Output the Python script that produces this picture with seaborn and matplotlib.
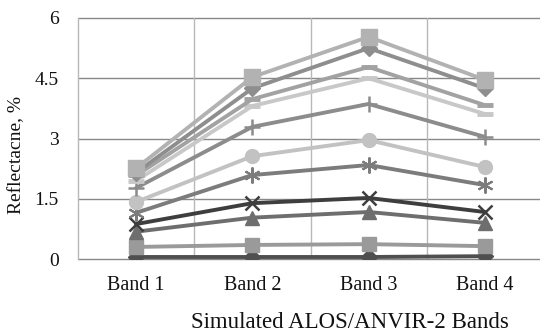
import matplotlib
matplotlib.use("Agg")
import matplotlib.pyplot as plt
import seaborn as sns
import pandas as pd
import numpy as np

sns.set_theme(style="white")
plt.rcParams['font.family'] = ['Liberation Serif', 'DejaVu Serif']

bands = ["Band 1", "Band 2", "Band 3", "Band 4"]
s01 = [0.05, 0.05, 0.05, 0.07]
s02 = [0.30, 0.35, 0.37, 0.32]
s03 = [0.68, 1.03, 1.17, 0.90]
s04 = [0.87, 1.39, 1.52, 1.17]
s05 = [1.15, 2.09, 2.34, 1.84]
s06 = [1.42, 2.56, 2.96, 2.29]
s07 = [1.77, 3.29, 3.86, 3.04]
s08 = [1.95, 3.81, 4.50, 3.61]
s09 = [2.08, 3.98, 4.78, 3.83]
s10 = [2.15, 4.25, 5.25, 4.25]
s11 = [2.26, 4.53, 5.53, 4.46]
yticks = [0, 1.5, 3, 4.5, 6]
ytick_labels = ["0", "1.5", "3", "4.5", "6"]

series = [s01, s02, s03, s04, s05, s06, s07, s08, s09, s10, s11]
names = [f"S{i+1}" for i in range(len(series))]
colors = ["#4f4f4f", "#9a9a9a", "#6e6e6e", "#3e3e3e", "#7c7c7c", "#c2c2c2",
          "#8c8c8c", "#c8c8c8", "#a2a2a2", "#8e8e8e", "#b2b2b2"]
markers = ["D", "s", "^", "x", (6, 2, 0), "o", "+", "_", "_", "D", "s"]
msizes = [8.5, 10, 10, 10.5, 11.5, 10, 11.5, 11.5, 11.5, 8.5, 11]
medges = [1, 1, 1, 1.8, 1.5, 1, 1.8, 3.5, 3.5, 1, 1]

rows = []
for n, s in zip(names, series):
    for i, v in enumerate(s):
        rows.append({"series": n, "x": i, "value": v})
df = pd.DataFrame(rows)

fig = plt.figure(figsize=(5.4, 3.33), dpi=100)
ax = fig.add_axes([78/540, (333-259)/333, (543-78)/540, (259-18)/333])

for n, c, m, ms, me in zip(names, colors, markers, msizes, medges):
    sns.lineplot(data=df[df.series == n], x="x", y="value", ax=ax, color=c,
                 linewidth=2.8, marker=m, markersize=ms, markeredgecolor=c,
                 markerfacecolor=c, markeredgewidth=me, legend=False, zorder=3)

ax.set_xlim(-0.5, 3.5)
ax.set_ylim(0, 6)
ax.set_xticks(range(len(bands)))
ax.set_xticklabels(bands)
ax.set_xticks(np.arange(-0.5, 3.6, 1), minor=True)
ax.set_yticks(yticks)
ax.set_yticklabels(ytick_labels)
ax.tick_params(axis="x", which="major", length=0, labelsize=14.5, pad=12, labelcolor="#111111")
ax.tick_params(axis="x", which="minor", length=8, width=1, color="#b0b0b0", direction="out")
ax.tick_params(axis="y", length=7, width=1, color="#888888", direction="out", labelsize=14, pad=7, labelcolor="#111111")
ax.grid(False)
for y in yticks:
    ax.axhline(y, color="#888888", linewidth=1, zorder=1, clip_on=False)
for x in np.arange(0.5, 3.6, 1):
    ax.axvline(x, color="#b8b8b8", linewidth=1, zorder=1)
for sp in ["top", "right", "bottom"]:
    ax.spines[sp].set_visible(False)
ax.spines["left"].set_color("#b8b8b8")
ax.spines["left"].set_linewidth(1)
ax.set_xlabel("Simulated ALOS/ANVIR-2 Bands", fontsize=16.5, color="#111111")
ax.set_ylabel("Reflectacne, %", fontsize=14, color="#111111")
ax.xaxis.set_label_coords((350 - 78) / 465, -(323 - 259) / 241, transform=ax.transAxes)
ax.xaxis.label.set_va("center")
ax.yaxis.set_label_coords(-(78 - 17) / 465, (259 - 155) / 241)
ax.yaxis.label.set_va("center")

fig.savefig("out.png", dpi=100)
